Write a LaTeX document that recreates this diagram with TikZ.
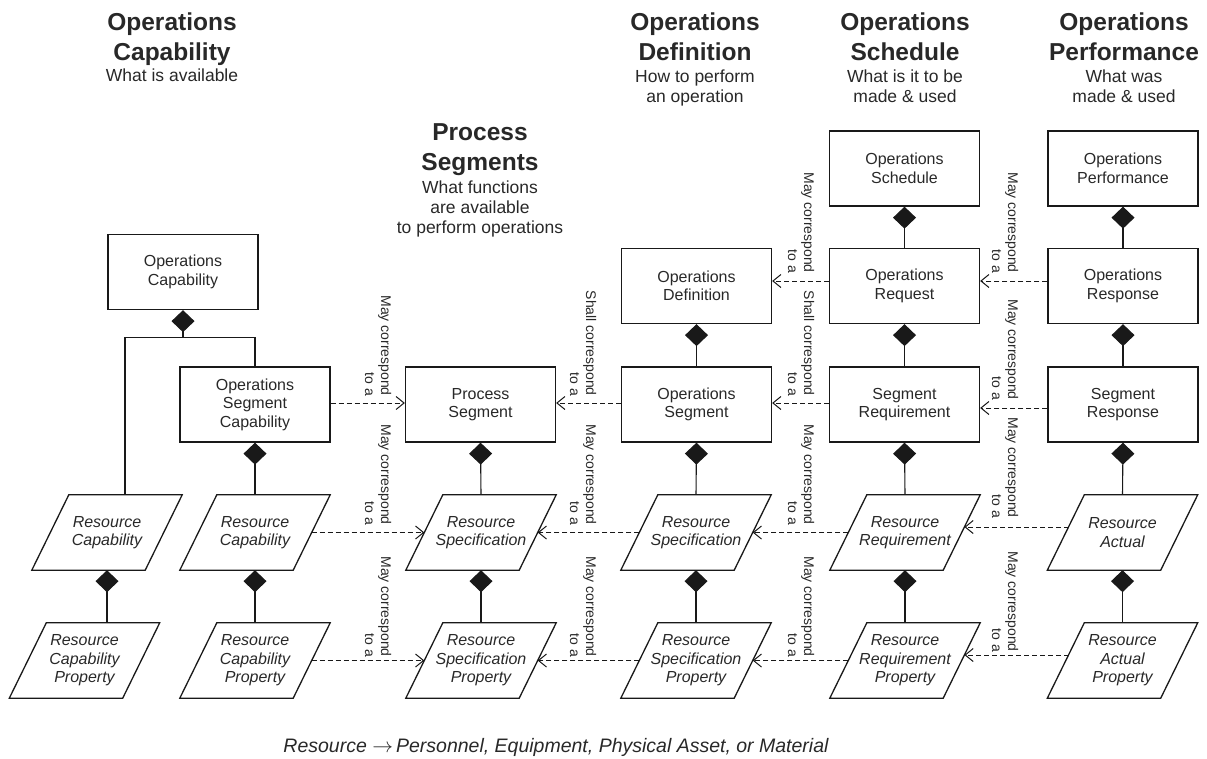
\documentclass[tikz,border=0pt]{standalone}
\usepackage{fontspec}
\setmainfont{Liberation Sans}
\usetikzlibrary{arrows.meta}

\definecolor{ink}{RGB}{25,25,25}
\definecolor{txt}{RGB}{40,40,40}

\tikzset{
  box/.style={draw=ink, line width=1.3pt, minimum width=150pt, minimum height=75pt,
    inner sep=0pt, align=center, font=\fontsize{16}{18.5}\selectfont, text=txt},
  resbox/.style={minimum width=150pt, minimum height=75pt, inner sep=0pt, align=center,
    font=\fontsize{16}{18.5}\selectfont\itshape, text=txt},
  paraline/.style={draw=ink, line width=1.3pt, line join=miter},
  comp/.style={draw=ink, line width=1.1pt, {Diamond[length=22pt,width=23pt]}-},
  link/.style={draw=ink, line width=1.1pt},
  corr/.style={draw=ink, line width=1pt, dash pattern=on 5pt off 3pt,
    -{Straight Barb[length=8pt,width=13pt,line width=1pt]}},
  corrlabel/.style={rotate=-90, anchor=east, align=right, inner sep=0pt,
    font=\fontsize{14}{16}\selectfont, text=txt},
  title/.style={anchor=north, align=center, inner sep=0pt,
    font=\fontsize{24.5}{30}\selectfont\bfseries, text=txt},
  subtitle/.style={anchor=north, align=center, inner sep=0pt,
    font=\fontsize{17.5}{20}\selectfont, text=txt},
}

\begin{document}
\begin{tikzpicture}[x=1pt,y=-1pt]
\useasboundingbox (0,0) rectangle (1207,758);

% column headings
\node[title]    (hcap)   at (172,13)  {Operations\\Capability};
\node[subtitle] (hcaps)  at (172,69)  {What is available};
\node[title]    (hseg)   at (480,123) {Process\\Segments};
\node[subtitle] (hsegs)  at (480,181) {What functions\\are available\\to perform operations};
\node[title]    (hdef)   at (695,13)  {Operations\\Definition};
\node[subtitle] (hdefs)  at (695,70)  {How to perform\\an operation};
\node[title]    (hsch)   at (905,13)  {Operations\\Schedule};
\node[subtitle] (hschs)  at (905,70)  {What is it to be\\made \& used};
\node[title]    (hperf)  at (1124,13) {Operations\\Performance};
\node[subtitle] (hperfs) at (1124,70) {What was\\made \& used};

% rectangular entities
\node[box] (opcap)   at (183,272)    {Operations\\Capability};
\node[box] (osc)     at (255,404.5)  {Operations\\Segment\\Capability};
\node[box] (ps)      at (480.5,404.5){Process\\Segment};
\node[box] (opdef)   at (696.5,286)  {Operations\\Definition};
\node[box] (opseg)   at (696.5,404.5){Operations\\Segment};
\node[box] (opsched) at (904.5,168.5){Operations\\Schedule};
\node[box] (opreq)   at (904.5,286)  {Operations\\Request};
\node[box] (segreq)  at (904.5,404.5){Segment\\Requirement};
\node[box] (opperf)  at (1123,168.5) {Operations\\Performance};
\node[box] (opresp)  at (1123,286)   {Operations\\Response};
\node[box] (segresp) at (1123,404.5) {Segment\\Response};

% resource entities (parallelograms)
\node[resbox] (rc1)   at (107,532.5)   {Resource\\Capability};
\node[resbox] (prop1) at (84.5,660.5)  {Resource\\Capability\\Property};
\node[resbox] (rc2)   at (255,532.5)   {Resource\\Capability};
\node[resbox] (prop2) at (255,660.5)   {Resource\\Capability\\Property};
\node[resbox] (rs3)   at (481,532.5)   {Resource\\Specification};
\node[resbox] (prop3) at (481,660.5)   {Resource\\Specification\\Property};
\node[resbox] (rs4)   at (696,532.5)   {Resource\\Specification};
\node[resbox] (prop4) at (696,660.5)   {Resource\\Specification\\Property};
\node[resbox] (rr5)   at (905,532.5)   {Resource\\Requirement};
\node[resbox] (prop5) at (905,660.5)   {Resource\\Requirement\\Property};
\node[resbox] (ra6)   at (1122.5,532.5){Resource\\Actual};
\node[resbox] (prop6) at (1122.5,660.5){Resource\\Actual\\Property};

\foreach \n in {rc1,prop1,rc2,prop2,rs3,prop3,rs4,prop4,rr5,prop5,ra6,prop6}
  \draw[paraline] (\n.south west) -- ([xshift=37]\n.north west) -- (\n.north east)
                  -- ([xshift=-37]\n.south east) -- cycle;

% composition links
\coordinate (capj) at ([yshift=-27]opcap.south);
\draw[comp] (opcap.south) -- (capj) -| (osc.north);
\draw[link] (capj) -| ([xshift=18]rc1.north);
\draw[comp] (rc1.south) -- (rc1.south |- prop1.north);
\draw[comp] (osc.south) -- (rc2.north);
\draw[comp] (rc2.south) -- (prop2.north);
\draw[comp] (ps.south) -- (rs3.north);
\draw[comp] (rs3.south) -- (prop3.north);
\draw[comp] (opdef.south) -- (opseg.north);
\draw[comp] (opseg.south) -- (rs4.north);
\draw[comp] (rs4.south) -- (prop4.north);
\draw[comp] (opsched.south) -- (opreq.north);
\draw[comp] (opreq.south) -- (segreq.north);
\draw[comp] (segreq.south) -- (rr5.north);
\draw[comp] (rr5.south) -- (prop5.north);
\draw[comp] (opperf.south) -- (opresp.north);
\draw[comp] (opresp.south) -- (segresp.north);
\draw[comp] (segresp.south) -- (ra6.north);
\draw[comp] (ra6.south) -- (prop6.north);

% correspondence links
\draw[corr] ([yshift=5]opreq.west) -- ([yshift=5]opdef.east);
\draw[corr] ([yshift=5]opresp.west) -- ([yshift=5]opreq.east);

\draw[corr] ([yshift=1.5]osc.east) -- ([yshift=1.5]ps.west);
\draw[corr] ([yshift=1.5]opseg.west) -- ([yshift=1.5]ps.east);
\draw[corr] ([yshift=1.5]segreq.west) -- ([yshift=1.5]opseg.east);
\draw[corr] ([yshift=-3.5]segresp.west) -- ([yshift=-3.5]segreq.east);

\draw[corr] ([xshift=-18.5]rc2.east) -- ([xshift=18.5]rs3.west);
\draw[corr] ([xshift=18.5]rs4.west) -- ([xshift=-18.5]rs3.east);
\draw[corr] ([xshift=18.5]rr5.west) -- ([xshift=-18.5]rs4.east);
\draw[corr] ([xshift=21.2,yshift=5.5]ra6.west) -- ([xshift=-15.8,yshift=5.5]rr5.east);

\draw[corr] ([xshift=-18.5]prop2.east) -- ([xshift=18.5]prop3.west);
\draw[corr] ([xshift=18.5]prop4.west) -- ([xshift=-18.5]prop3.east);
\draw[corr] ([xshift=18.5]prop5.west) -- ([xshift=-18.5]prop4.east);
\draw[corr] ([xshift=21.2,yshift=5.5]prop6.west) -- ([xshift=-15.8,yshift=5.5]prop5.east);

% correspondence labels
\node[corrlabel] (la1) at (801,273)  {May correspond\\to a};
\node[corrlabel] (la2) at (1005,273) {May correspond\\to a};
\node[corrlabel] (lb1) at (378,396)  {May correspond\\to a};
\node[corrlabel] (lb2) at (583,396)  {Shall correspond\\to a};
\node[corrlabel] (lb3) at (801,396)  {Shall correspond\\to a};
\node[corrlabel] (lb4) at (1005,400) {May correspond\\to a};
\node[corrlabel] (lc1) at (378,525)  {May correspond\\to a};
\node[corrlabel] (lc2) at (583,525)  {May correspond\\to a};
\node[corrlabel] (lc3) at (801,525)  {May correspond\\to a};
\node[corrlabel] (lc4) at (1005,518) {May correspond\\to a};
\node[corrlabel] (ld1) at (378,657)  {May correspond\\to a};
\node[corrlabel] (ld2) at (583,657)  {May correspond\\to a};
\node[corrlabel] (ld3) at (801,657)  {May correspond\\to a};
\node[corrlabel] (ld4) at (1005,652) {May correspond\\to a};

% footnote
\node[anchor=base, inner sep=0pt, font=\fontsize{19.5}{22}\selectfont\itshape, text=txt]
  (note) at (556,752) {Resource $\rightarrow$\kern3pt Personnel, Equipment, Physical Asset, or Material};
\end{tikzpicture}
\end{document}
